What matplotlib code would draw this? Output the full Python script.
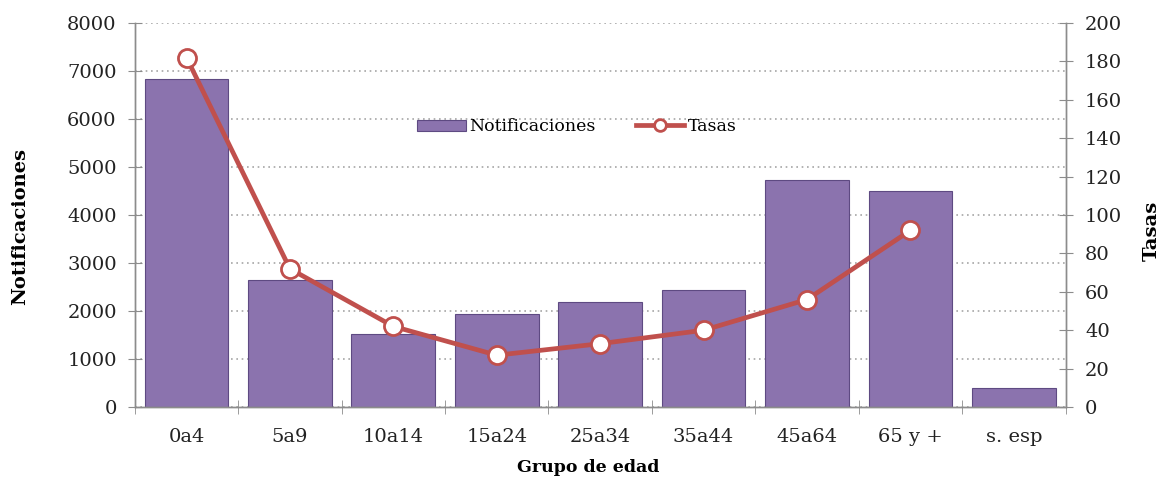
import matplotlib
matplotlib.use("Agg")
import matplotlib.pyplot as plt
import numpy as np

# datos
grupos = ["0a4", "5a9", "10a14", "15a24", "25a34", "35a44", "45a64", "65 y +", "s. esp"]
notificaciones = [6840, 2640, 1520, 1940, 2190, 2430, 4730, 4500, 400]
tasas = [182, 72, 42, 27, 33, 40, 56, 92]

plt.rcParams['font.family'] = ['DejaVu Serif']
gris = '#8c8c8c'

fig = plt.figure(figsize=(11.62, 4.8), dpi=100)
ax1 = fig.add_axes([0.116, 0.152, 0.801, 0.800])
ax2 = ax1.twinx()

x = np.arange(len(grupos))
ax1.bar(x, notificaciones, width=0.81, color='#8b73ae', edgecolor='#5e4a82',
        linewidth=0.8, label='Notificaciones', zorder=2)
ax2.plot(x[:len(tasas)], tasas, color='#c0504d', linewidth=3.4, marker='o',
         markersize=13, markerfacecolor='white', markeredgecolor='#c0504d',
         markeredgewidth=2, label='Tasas', zorder=3)

ax1.set_xlim(-0.5, len(grupos) - 0.5)
ax1.set_ylim(0, 8000)
ax2.set_ylim(0, 200)
ax1.set_yticks(np.arange(0, 8001, 1000))
ax2.set_yticks(np.arange(0, 201, 20))

ax1.set_xticks(x)
ax1.set_xticklabels(grupos)
ax1.set_xticks(np.arange(-0.5, len(grupos), 1.0), minor=True)
ax1.tick_params(axis='x', which='major', length=0, pad=15, labelsize=14, colors='#222222')
ax1.tick_params(axis='x', which='minor', length=10, direction='inout', color=gris)
ax1.tick_params(axis='y', length=10, direction='inout', color=gris, labelsize=14,
                labelcolor='#222222', pad=8)
ax2.tick_params(axis='y', length=10, direction='inout', color=gris, labelsize=14,
                labelcolor='#222222', pad=9)

ax1.grid(axis='y', linestyle=(0, (1, 2.2)), color='#a6a6a6', linewidth=1.2, zorder=0)
ax1.set_axisbelow(True)

for a in (ax1, ax2):
    a.spines['top'].set_visible(False)
    for s in ('left', 'right', 'bottom'):
        a.spines[s].set_color(gris)
        a.spines[s].set_linewidth(1.0)

ax1.set_ylabel('Notificaciones', fontsize=14, fontweight='bold')
ax1.yaxis.set_label_coords(-0.114, 0.47)
ax2.set_ylabel('Tasas', fontsize=14, fontweight='bold')
ax2.yaxis.set_label_coords(1.083, 0.46)
ax1.set_xlabel('Grupo de edad', fontsize=12.5, fontweight='bold')
ax1.xaxis.set_label_coords(0.487, -0.135)

h1, l1 = ax1.get_legend_handles_labels()
h2, l2 = ax2.get_legend_handles_labels()
ax2.legend(h1 + h2, l1 + l2, loc='center', bbox_to_anchor=(0.475, 0.73),
           ncol=2, frameon=False, fontsize=12.5, handlelength=2.8,
           handletextpad=0.2, columnspacing=2.3, handleheight=0.6,
           markerscale=0.65)

fig.savefig('out.png', dpi=100)
